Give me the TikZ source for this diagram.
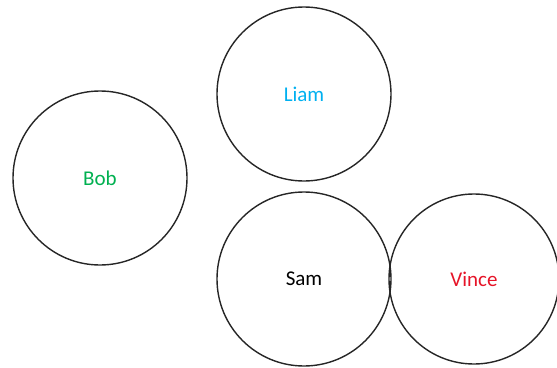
\documentclass[tikz,border=0pt]{standalone}
\usepackage{fontspec}
\setmainfont{Carlito}
\definecolor{bobgreen}{RGB}{0,176,80}
\definecolor{liamblue}{RGB}{0,176,240}
\definecolor{vincered}{RGB}{230,20,40}
\begin{document}
\begin{tikzpicture}[x=1pt,y=-1pt,
  person/.style={circle,draw=black!85,line width=1.4pt,minimum size=174pt,inner sep=0pt,font=\fontsize{21}{24}\selectfont}]
\useasboundingbox (0,0) rectangle (557,367);
\node[person,text=bobgreen] (bob) at (100,178) {Bob};
\node[person,text=liamblue] (liam) at (304,94) {Liam};
\node[person,text=black] (sam) at (304,279) {Sam};
\node[person,text=vincered,minimum size=170pt] (vince) at (474,279) {Vince};
\end{tikzpicture}
\end{document}
